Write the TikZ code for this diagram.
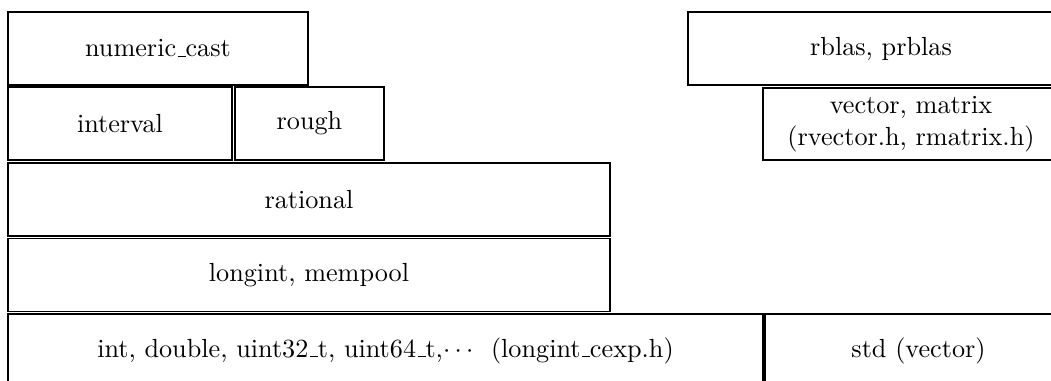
\documentclass[tikz,border=0pt]{standalone}
% short low rule used for the underscore in identifiers
\newcommand\lowbar{\leavevmode\kern.06em\vbox{\hrule width.3em}}
\begin{document}
% one unit = one pixel of the layout grid
\def\PX{0.3817pt}
\begin{tikzpicture}[x=\PX, y=-\PX,
  layer/.style={draw=black, line width=0.7pt, rectangle, inner sep=0pt,
    align=center, font=\normalsize}]
\useasboundingbox (0,0) rectangle (1051,381);
\clip (0,0) rectangle (1051,381);

% left stack
\node[layer, minimum width=300*\PX, minimum height=73*\PX] (numcast) at (158,48.5) {numeric\lowbar cast};
\node[layer, minimum width=224*\PX, minimum height=73*\PX] (interval) at (120,123.5) {interval};
\node[layer, minimum width=149*\PX, minimum height=73*\PX] (rough) at (309.5,123.5) {rough};
\node[layer, minimum width=602*\PX, minimum height=73*\PX] (rational) at (309,199.5) {rational};
\node[layer, minimum width=602*\PX, minimum height=73*\PX] (longint) at (309,275) {longint, mempool};

% base layer
\node[layer, minimum width=755*\PX, minimum height=73*\PX] (builtin) at (385.5,350.5)
  {int, double, uint32\lowbar t, uint64\lowbar t,$\cdots$\ \ (longint\lowbar cexp.h)};
\node[layer, minimum width=307*\PX, minimum height=73*\PX] (stdvec) at (918.5,350.5) {std (vector)};

% right stack
\node[layer, minimum width=386*\PX, minimum height=73*\PX] (rblas) at (881,48.5) {rblas, prblas};
\node[layer, minimum width=296*\PX, minimum height=72*\PX] (vecmat) at (911,124)
  {vector, matrix\\(rvector.h, rmatrix.h)};
\end{tikzpicture}
\end{document}
